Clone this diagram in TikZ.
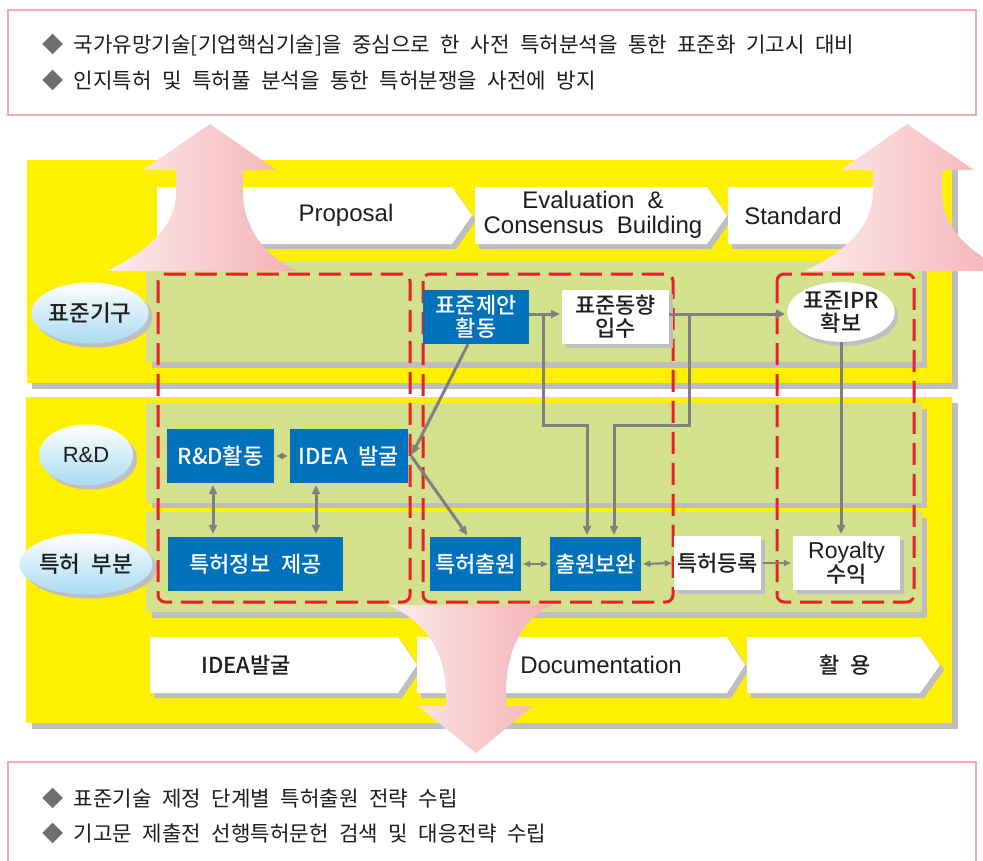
\documentclass[tikz,border=0pt]{standalone}
\usepackage{fontspec}
\setmainfont{Liberation Sans}
\newfontfamily\kr{Noto Sans CJK KR}[WordSpace=2.2]
\newfontfamily\krm{Noto Sans CJK KR Medium}[WordSpace=2.2]
\usetikzlibrary{arrows.meta,shapes.geometric,shadows,calc}
\definecolor{yel}{RGB}{255,240,0}
\definecolor{grn}{RGB}{211,225,140}
\definecolor{shg}{RGB}{190,190,192}
\definecolor{blu}{RGB}{0,114,187}
\definecolor{redd}{RGB}{232,32,42}
\definecolor{agr}{RGB}{128,128,128}
\definecolor{pinkb}{RGB}{243,170,172}
\definecolor{pkl}{RGB}{253,236,236}
\definecolor{pkr}{RGB}{244,176,179}
\definecolor{lblue}{RGB}{168,218,242}
\definecolor{txt}{RGB}{30,30,30}
\definecolor{dia}{RGB}{110,110,110}
\newcommand\chev[5]{%
  \fill[shg] (#1+4,#4+5) -- (#2+4,#4+5) -- (#3+4,{(#4+#5)/2+5}) -- (#2+4,#5+5) -- (#1+4,#5+5) -- cycle;
  \fill[white] (#1,#4) -- (#2,#4) -- (#3,{(#4+#5)/2}) -- (#2,#5) -- (#1,#5) -- cycle;}
\begin{document}
\begin{tikzpicture}[x=1pt,y=-1pt,
  note/.style={anchor=west,inner sep=0pt,text=txt,font=\kr\fontsize{21.2}{24}\selectfont},
  lat/.style={inner sep=0pt,text=txt,align=center,font=\fontsize{24}{25}\selectfont},
  krl/.style={inner sep=0pt,text=txt,font=\krm\fontsize{22}{24}\selectfont},
  lab/.style={ellipse,inner sep=0pt,minimum width=94pt,minimum height=61pt,top color=white,bottom color=lblue,
    drop shadow={shadow xshift=4pt,shadow yshift=-4pt,fill=shg,opacity=1},text=txt,
    font=\krm\fontsize{22.5}{24}\selectfont},
  bbox/.style={rectangle,fill=blu,text=white,inner sep=0pt,minimum height=54pt,align=center,
    font=\krm\fontsize{22}{23}\selectfont},
  wbox/.style={rectangle,fill=white,text=txt,inner sep=0pt,minimum height=54pt,align=center,
    drop shadow={shadow xshift=4pt,shadow yshift=-4pt,fill=shg,opacity=1},
    font=\krm\fontsize{22}{23}\selectfont},
  reddash/.style={draw=redd,line width=3pt,rounded corners=7pt,dash pattern=on 22pt off 9pt},
  conn/.style={draw=agr,line width=3pt,-{Triangle[length=9pt,width=8pt]},shorten >=2pt},
  dconn/.style={draw=agr,line width=3pt,{Triangle[length=9pt,width=8pt]}-{Triangle[length=9pt,width=8pt]},shorten >=3pt,shorten <=2pt},
  tconn/.style={draw=agr,line width=2.2pt,{Triangle[length=7pt,width=6pt]}-{Triangle[length=7pt,width=6pt]},shorten >=2pt,shorten <=2pt},
  tsconn/.style={draw=agr,line width=2.2pt,-{Triangle[length=7pt,width=6pt]},shorten >=2pt,shorten <=2pt},
  bigarrow/.style={left color=pkl,right color=pkr,draw=none}
]
\clip (0,0) rectangle (983,860);
\fill[white] (0,0) rectangle (983,860);
% text boxes
\draw[pinkb,line width=2pt,fill=white] (8,10) rectangle (976,115);
\draw[pinkb,line width=2pt,fill=white] (8,762) rectangle (976,875);
\node[note] (t1) at (42,45) {\textcolor{dia}{◆} 국가유망기술[기업핵심기술]을 중심으로 한 사전 특허분석을 통한 표준화 기고시 대비};
\node[note] (t2) at (42,80) {\textcolor{dia}{◆} 인지특허 및 특허풀 분석을 통한 특허분쟁을 사전에 방지};
\node[note] (b1) at (42,798) {\textcolor{dia}{◆} 표준기술 제정 단계별 특허출원 전략 수립};
\node[note] (b2) at (42,833) {\textcolor{dia}{◆} 기고문 제출전 선행특허문헌 검색 및 대응전략 수립};
% yellow panels
\fill[shg] (32,166) rectangle (958,389);
\fill[yel] (27,160) rectangle (952,383);
\fill[shg] (32,403) rectangle (958,729);
\fill[yel] (26,397) rectangle (952,723);
% chevrons
\chev{157}{452}{472}{187}{244}
\chev{475}{707}{727}{187}{244}
\chev{728}{880}{900}{187}{244}
\chev{150}{398}{417}{637}{693}
\chev{417}{727}{745}{637}{693}
\chev{747}{920}{940}{637}{693}
\node[lat] (cp) at (346,215) {Proposal};
\node[lat] (ce) at (593,215) {Evaluation~~\&\\Consensus~~Building};
\node[lat] (cs) at (793,216) {Standard};
\node[krl] (ci) at (246,665) {IDEA발굴};
\node[lat] (cd) at (601,665) {Documentation};
\node[krl] (cu) at (845,665) {활 용};
% green bands
\fill[shg] (152,268) rectangle (927,368);
\fill[grn] (146,261) rectangle (922,362);
\fill[shg] (152,409) rectangle (927,508);
\fill[grn] (146,403) rectangle (922,503);
\fill[shg] (152,518) rectangle (927,618);
\fill[grn] (146,512) rectangle (922,612);
% row labels
\node[lab] (e1) at (90,313) {표준기구};
\node[lab,font=\fontsize{22}{24}\selectfont] (e2) at (86,455) {R\&D};
\node[lab] (e3) at (86,564) {특허 부분};
% dashed groups
\draw[reddash] (158,274) rectangle (410,602);
\draw[reddash] (423,274) rectangle (673,602);
\draw[reddash] (777,274) rectangle (914,602);
% process nodes
\node[bbox,minimum width=106pt] (p1) at (476,317) {표준제안\\활동};
\node[wbox,minimum width=107pt] (p2) at (615.5,317) {표준동향\\입수};
\node[ellipse,fill=white,inner sep=0pt,minimum width=92pt,minimum height=59pt,text=txt,
  drop shadow={shadow xshift=3pt,shadow yshift=-4pt,fill=shg,opacity=1},align=center,
  font=\krm\fontsize{22}{23}\selectfont] (p3) at (841,312) {표준IPR\\확보};
\node[bbox,minimum width=107pt] (rd) at (220.5,456) {R\&D활동};
\node[bbox,minimum width=118pt] (idea) at (349,456) {IDEA 발굴};
\node[bbox,minimum width=175pt] (pi) at (255.5,564) {특허정보 제공};
\node[bbox,minimum width=91pt] (ch) at (475.5,564) {특허출원};
\node[bbox,minimum width=91pt] (cb) at (595.5,564) {출원보완};
\node[wbox,minimum width=87pt] (reg) at (717.5,563) {특허등록};
\node[wbox,minimum width=107pt] (roy) at (846.5,563) {{\rmfamily\fontsize{23}{23}\selectfont Royalty}\\수익};
% connectors
\coordinate (j1) at (543,314);
\coordinate (j2) at (689,314);
\draw[conn] ([yshift=3pt]p1.east) -- ([yshift=3pt]p2.west);
\draw[conn] ([yshift=3pt]p2.east) -- ([yshift=3pt]p2.east -| p3.west);
\draw[conn] (j1) -- (543,425) -| ([xshift=-8.5pt]cb.north);
\draw[conn] (j2) -- (689,425) -| ([xshift=18.5pt]cb.north);
\draw[conn] ([xshift=-8pt]p1.south) -- ([xshift=3pt]idea.east);
\draw[conn] ([xshift=3pt]idea.east) -- ([xshift=-7pt]ch.north);
\draw[conn] (p3.south) -- (p3.south |- roy.north);
\draw[tconn] (rd.east) -- (idea.west);
\draw[dconn] ([xshift=-7.5pt]rd.south) -- ([xshift=-7.5pt]rd.south |- pi.north);
\draw[dconn] ([xshift=-33pt]idea.south) -- ([xshift=-33pt]idea.south |- pi.north);
\draw[tconn] (ch.east) -- (cb.west);
\draw[tconn] (cb.east) -- (reg.west);
\draw[tsconn] (reg.east) -- (roy.west);
% big arrows
\path[bigarrow] (107,271) .. controls (150,250) and (176,225) .. (176,192) -- (176,170) -- (143,170) -- (210,124)
  -- (276,170) -- (243,170) -- (243,192) .. controls (243,225) and (262,255) .. (297,271) -- cycle;
\path[bigarrow] (805,271) .. controls (848,250) and (873,225) .. (873,192) -- (873,170) -- (841,170) -- (907,124)
  -- (974,170) -- (942,170) -- (942,192) .. controls (942,225) and (965,252) .. (1010,271) -- cycle;
\path[bigarrow] (388,605) .. controls (428,622) and (446,655) .. (446,695) -- (446,706) -- (418,706) -- (476,753)
  -- (533,706) -- (506,706) -- (506,695) .. controls (506,655) and (518,622) .. (552,605) -- cycle;
\end{tikzpicture}
\end{document}
